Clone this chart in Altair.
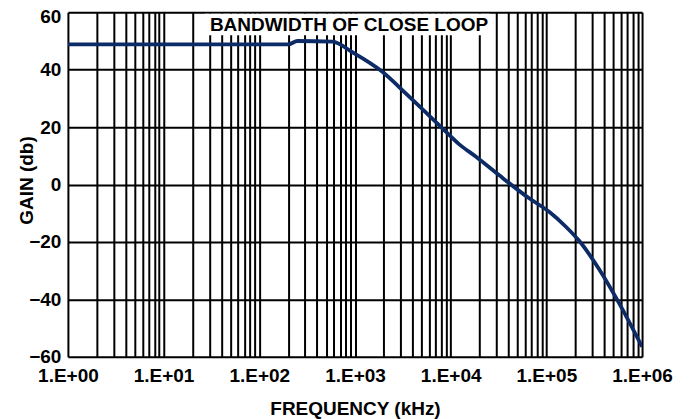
import altair as alt
import pandas as pd

# Curve
freq_khz = [1, 200, 251, 582, 948, 1875, 3707, 8240, 12300, 18400, 32200,
            66200, 107000, 160000, 220000, 356000, 575000, 1000000]
gain_db = [48.8, 48.8, 50.0, 49.8, 46.0, 39.6, 30.5, 19.5, 14.0, 9.7, 3.2,
           -4.8, -9.5, -14.7, -19.6, -29.5, -41.3, -56.5]

# Axis ticks / grid
x_grid = [m * 10 ** k for k in range(6) for m in range(1, 10)] + [10 ** 6]
y_ticks = [-60, -40, -20, 0, 20, 40, 60]

# Annotation
note_text = ["BANDWIDTH OF CLOSE LOOP"]
note_x = [866]
note_y = [53.6]
note_box_x = [27, 25500]
note_box_y = [52.0, 59.5]

df = pd.DataFrame({"f": freq_khz, "g": gain_db})
box_df = pd.DataFrame({"x1": [note_box_x[0]], "x2": [note_box_x[1]],
                       "y1": [note_box_y[0]], "y2": [note_box_y[1]]})
note_df = pd.DataFrame({"t": note_text, "x": note_x, "y": note_y})

FONT = "Liberation Sans"
FS = 19

xscale = alt.Scale(type="log", domain=[1, 1e6], nice=False)
yscale = alt.Scale(domain=[-60, 60], nice=False, zero=False)

label_expr = ("abs(log(datum.value)/LN10 - round(log(datum.value)/LN10)) < 1e-6 ? "
              "'1.E+0' + round(log(datum.value)/LN10) : ''")

xaxis = alt.Axis(values=x_grid, labelExpr=label_expr, title="FREQUENCY (kHz)",
                 grid=True, gridColor="black", gridWidth=2, gridOpacity=1,
                 ticks=False, tickSize=0, domain=False, labelOverlap=False,
                 labelFlush=False, labelBound=False, labelPadding=25,
                 labelBaseline="alphabetic",
                 labelFont=FONT, labelFontSize=FS, labelFontWeight="bold",
                 labelColor="black", titleFont=FONT, titleFontSize=FS,
                 titleFontWeight="bold", titleColor="black",
                 titleY=58, titleBaseline="alphabetic")
yaxis = alt.Axis(values=y_ticks, title="GAIN (db)", grid=True, gridColor="black",
                 gridWidth=2, gridOpacity=1, ticks=False, tickSize=0, domain=False,
                 labelFlush=False, labelBound=False, labelOverlap=False, labelPadding=7,
                 labelOffset={"condition": {"test": "datum.value == 60", "value": 4},
                              "value": 0},
                 labelFont=FONT, labelFontSize=FS, labelFontWeight="bold",
                 labelColor="black", titleFont=FONT, titleFontSize=FS,
                 titleFontWeight="bold", titleColor="black",
                 titleX=-31, titleY=168)

line = alt.Chart(df).mark_line(color="#0d2b66", strokeWidth=3.8,
                               interpolate="monotone", clip=True).encode(
    x=alt.X("f:Q", scale=xscale, axis=xaxis),
    y=alt.Y("g:Q", scale=yscale, axis=yaxis),
)

box = alt.Chart(box_df).mark_rect(color="white").encode(
    x=alt.X("x1:Q", scale=xscale), x2="x2:Q",
    y=alt.Y("y1:Q", scale=yscale), y2="y2:Q",
)

note = alt.Chart(note_df).mark_text(font=FONT, fontSize=FS, fontWeight="bold",
                                    color="black", align="center",
                                    baseline="alphabetic").encode(
    x=alt.X("x:Q", scale=xscale), y=alt.Y("y:Q", scale=yscale), text="t:N",
)

chart = alt.layer(box, line, note).properties(
    width=575, height=345,
    autosize=alt.AutoSizeParams(type="none"),
    padding={"left": 60, "top": 4, "right": 40, "bottom": 62},
).configure_view(stroke="black", strokeWidth=2).configure(background="white")

chart.save("out.html", embed_options={"renderer": "svg", "actions": False})
